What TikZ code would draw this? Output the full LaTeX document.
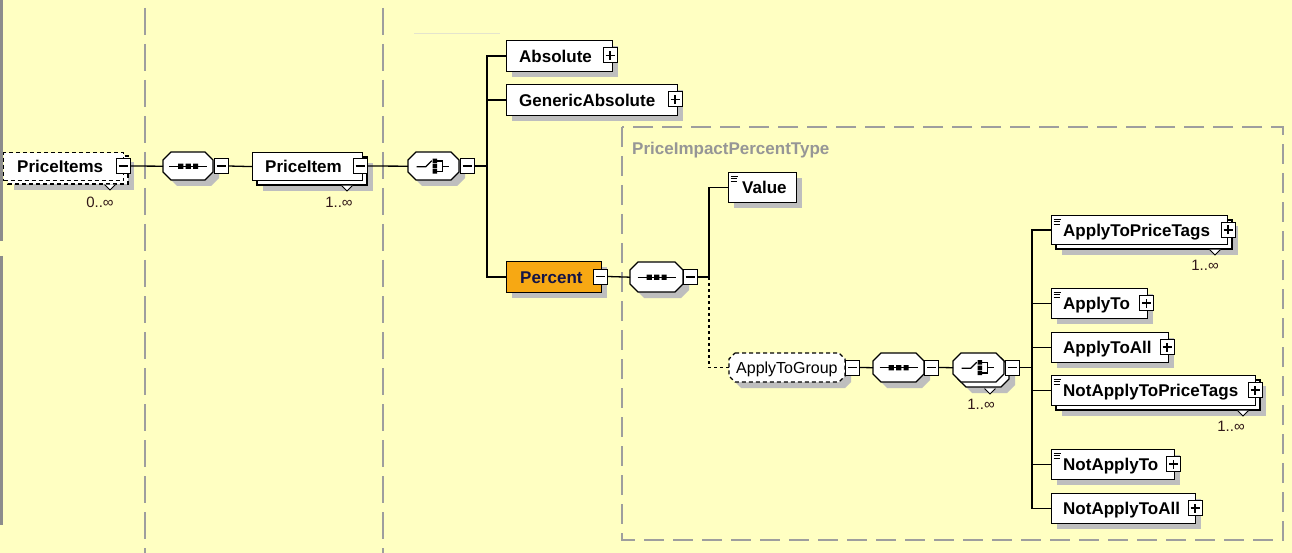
\documentclass[tikz,border=0pt]{standalone}
\usepackage{fontspec}
\setmainfont{Liberation Sans}
\usetikzlibrary{calc}
\definecolor{bgc}{RGB}{255,255,194}
\definecolor{shd}{RGB}{190,190,190}
\definecolor{grl}{RGB}{158,158,158}
\definecolor{orng}{RGB}{247,168,19}
\definecolor{multc}{RGB}{50,25,25}
\definecolor{navy}{RGB}{20,20,70}
\definecolor{ctitle}{RGB}{150,150,150}
\definecolor{leftbar}{RGB}{140,140,140}
\definecolor{faint}{RGB}{228,228,205}
\newcommand\octo[6]{\path[#1] (#2+#6,#3) -- (#4-#6,#3) -- (#4,#3+#6) -- (#4,#5-#6) -- (#4-#6,#5) -- (#2+#6,#5) -- (#2,#5-#6) -- (#2,#3+#6) -- cycle;}
\newcommand\elem[6][]{%
  \path[fill=shd] (#3+6,#4+6) rectangle (#5+6,#6+6);
  \node[elembox,#1,minimum width={#5-#3},minimum height={#6-#4},anchor=north west] (#2) at (#3,#4) {};}
\newcommand\stel[6][]{%
  \path[fill=shd] (#3+11,#4+11) rectangle (#5+11,#6+11);
  \draw[elembox,#1] (#3+5,#4+5) rectangle (#5+5,#6+5);
  \node[elembox,#1,minimum width={#5-#3},minimum height={#6-#4},anchor=north west] (#2) at (#3,#4) {};}
\newcommand\comp[5]{%
  \octo{fill=shd}{#2+6}{#3+6}{#4+6}{#5+6}{8}
  \octo{draw=black,fill=white,line width=1.2pt}{#2}{#3}{#4}{#5}{8}
  \node[inner sep=0,minimum width={#4-#2},minimum height={#5-#3},anchor=north west] (#1) at (#2,#3) {};}
\newcommand\stcomp[5]{%
  \octo{fill=shd}{#2+11}{#3+11}{#4+11}{#5+11}{8}
  \octo{draw=black,fill=white,line width=1.2pt}{#2+5}{#3+5}{#4+5}{#5+5}{8}
  \octo{draw=black,fill=white,line width=1.2pt}{#2}{#3}{#4}{#5}{8}
  \node[inner sep=0,minimum width={#4-#2},minimum height={#5-#3},anchor=north west] (#1) at (#2,#3) {};}
\newcommand\mtri[2]{\draw[fill=white,line width=0.9pt] (#1-5.5,#2+0.6) -- (#1,#2+6) -- (#1+5.5,#2+0.6);}
\newcommand\seqsym[1]{\begin{scope}[shift={(#1.center)}]
 \draw[line width=1.2pt] (-19,0) -- (19,0);
 \fill (-10,-2.6) rectangle (-4.8,2.6) (-2.6,-2.6) rectangle (2.6,2.6) (4.8,-2.6) rectangle (10,2.6);
\end{scope}}
\newcommand\chsym[1]{\begin{scope}[shift={(#1.center)}]
 \draw[line width=1.2pt] (-17,0.5) -- (-8,0.5) -- (-2,-5.5);
 \fill (-1,-7.5) rectangle (3.5,-3) (-1,-2.2) rectangle (3.5,2.2) (-1,3) rectangle (3.5,7.5);
 \draw[line width=1.2pt] (3.5,-5.2) -- (8.5,-5.2) -- (8.5,5.2) -- (3.5,5.2) (8.5,0) -- (15,0);
\end{scope}}
\newcommand\elicon[1]{\begin{scope}[shift={(#1.north west)}]
 \draw[line width=0.9pt] (2.5,4.3) -- (10,4.3) (2.5,6.7) -- (9,6.7) (2.5,9.1) -- (9,9.1);
\end{scope}}
\begin{document}
\begin{tikzpicture}[x=1pt,y=-1pt,
  elembox/.style={draw=black,fill=white,line width=1.2pt,inner sep=0,rectangle},
  dbox/.style={draw=black,fill=white,line width=1.1pt,dash pattern=on 4pt off 3pt,inner sep=0},
  pmbox/.style={draw=black,fill=white,line width=1pt,inner sep=0,minimum width=14pt,minimum height=15pt},
  minus/.style={pmbox,path picture={\draw[line width=1.1pt] ([xshift=-4.5pt]path picture bounding box.center) -- ([xshift=4.5pt]path picture bounding box.center);}},
  plus/.style={pmbox,path picture={\draw[line width=1.1pt] ([xshift=-4.5pt]path picture bounding box.center) -- ([xshift=4.5pt]path picture bounding box.center) ([yshift=-4.5pt]path picture bounding box.center) -- ([yshift=4.5pt]path picture bounding box.center);}},
  lbl/.style={font=\fontsize{17}{20}\selectfont\bfseries,inner sep=0,text height=12.2pt,text depth=0pt,anchor=west,text=black},
  lblr/.style={font=\fontsize{16}{19}\selectfont,inner sep=0,text height=11.5pt,text depth=0pt,anchor=west,text=black},
  mult/.style={font=\fontsize{15}{18}\selectfont,inner sep=0,text=multc},
  ctit/.style={font=\fontsize{17}{20}\selectfont\bfseries,inner sep=0,text height=12.2pt,text depth=0pt,text=ctitle},
  conn/.style={draw=black,line width=1.3pt},
  dotc/.style={draw=black,line width=1.2pt,dash pattern=on 3pt off 3pt},
  vdash/.style={draw=grl,line width=1.6pt,dash pattern=on 27pt off 9pt},
  cont/.style={draw=grl,line width=1.4pt,dash pattern=on 20pt off 9pt}]
\useasboundingbox (0,0) rectangle (1292,553);
\fill[bgc] (0,0) rectangle (1292,553);
\draw[leftbar,line width=2.5pt] (1.25,0) -- (1.25,241) (1.25,256) -- (1.25,525);
\draw[faint,line width=1pt] (414,34) -- (500,34);
\draw[vdash] (145,8) -- (145,553);
\draw[vdash] (383,8) -- (383,553);
\draw[cont] (622,127) rectangle (1283,540);
\node[ctit,anchor=west] (ptype) at (632,148) {PriceImpactPercentType};
% PriceItems
\path[fill=shd] (14,162) rectangle (134,190);
\draw[dbox] (8,156) rectangle (128,184);
\node[dbox,minimum width=120,minimum height=28,anchor=north west] (pis) at (3,152) {};
\mtri{110}{184}
\node[minus] (pism) at (123,166) {};
\node[lbl] (tpis) at ([xshift=14pt]pis.west) {PriceItems};
\node[mult] (m0) at (100,202) {0..∞};
% sequence 1
\comp{seq1}{163}{152}{213}{180}
\seqsym{seq1}
\node[minus] (seq1m) at (221,166) {};
% PriceItem
\stel{pi}{252}{152}{362}{180}
\mtri{347}{185}
\node[minus] (pim) at (360,166) {};
\node[lbl] (tpi) at ([xshift=13pt]pi.west) {PriceItem};
\node[mult] (m1) at (339,202) {1..∞};
% choice 1
\comp{ch1}{408}{152}{459}{180}
\chsym{ch1}
\node[minus] (ch1m) at (467,166) {};
% children of choice 1
\elem{abs}{506}{40}{612}{71}
\node[lbl] (tabs) at ([xshift=13pt]abs.west) {Absolute};
\node[plus] (absp) at (610,55.5) {};
\elem{gen}{506}{84}{677}{115}
\node[lbl] (tgen) at ([xshift=13pt]gen.west) {GenericAbsolute};
\node[plus] (genp) at (675,99.5) {};
\elem[fill=orng]{perc}{506}{261}{601}{292}
\node[lbl,text=navy] (tperc) at ([xshift=14pt]perc.west) {Percent};
\node[minus] (percm) at (600.5,276.5) {};
% sequence 2
\comp{seq2}{630}{262}{683}{292}
\seqsym{seq2}
\node[minus] (seq2m) at (690,277) {};
% Value
\elem{val}{728}{172}{796}{202}
\elicon{val}
\node[lbl] (tval) at ([xshift=14pt]val.west) {Value};
% ApplyToGroup
\octo{fill=shd}{735}{359}{851}{388}{6}
\octo{dbox}{729}{353}{845}{382}{6}
\node[inner sep=0,minimum width=116,minimum height=29,anchor=north west] (atg) at (729,353) {};
\node[lblr] (tatg) at ([xshift=7pt]atg.west) {ApplyToGroup};
\node[minus] (atgm) at (852.5,367.5) {};
% sequence 3
\comp{seq3}{873}{353}{924}{382}
\seqsym{seq3}
\node[minus] (seq3m) at (931.5,367.5) {};
% choice 2
\stcomp{ch2}{953}{353}{1004}{382}
\mtri{990}{388}
\chsym{ch2}
\node[minus] (ch2m) at (1012,367.5) {};
\node[mult] (m2) at (981,404) {1..∞};
% right column
\stel{apt}{1051}{215}{1227}{244}
\mtri{1215}{249}
\elicon{apt}
\node[lbl] (tapt) at ([xshift=12pt]apt.west) {ApplyToPriceTags};
\node[plus] (aptp) at (1228,230) {};
\node[mult] (m3) at (1205,265) {1..∞};
\elem{apto}{1051}{288}{1147}{318}
\elicon{apto}
\node[lbl] (tapto) at ([xshift=12pt]apto.west) {ApplyTo};
\node[plus] (aptop) at (1146.5,303) {};
\elem{apa}{1051}{332}{1168}{362}
\node[lbl] (tapa) at ([xshift=12pt]apa.west) {ApplyToAll};
\node[plus] (apap) at (1167,347) {};
\stel{napt}{1051}{375}{1255}{405}
\mtri{1243}{410}
\elicon{napt}
\node[lbl] (tnapt) at ([xshift=12pt]napt.west) {NotApplyToPriceTags};
\node[plus] (naptp) at (1255,390) {};
\node[mult] (m4) at (1231,426) {1..∞};
\elem{napto}{1051}{449}{1174}{479}
\elicon{napto}
\node[lbl] (tnapto) at ([xshift=12pt]napto.west) {NotApplyTo};
\node[plus] (naptop) at (1173.5,464) {};
\elem{napa}{1051}{493}{1195}{523}
\node[lbl] (tnapa) at ([xshift=12pt]napa.west) {NotApplyToAll};
\node[plus] (napap) at (1195,508) {};
% connectors
\coordinate (t1) at (487,166);
\coordinate (t2) at (709,277);
\coordinate (t3) at (1032,367.5);
\draw[conn] (pism.east) -- (seq1.west);
\draw[conn] (seq1m.east) -- (pi.west);
\draw[conn] (pim.east) -- (ch1.west);
\draw[conn] (ch1m.east) -- (t1);
\draw[conn] (abs.west) -| (t1) |- (perc.west);
\draw[conn] (gen.west) -- (gen.west -| t1);
\draw[conn] (percm.east) -- (seq2.west);
\draw[conn] (seq2m.east) -- (t2);
\draw[conn] (val.west) -| (t2);
\draw[dotc] (t2) |- (atg.west);
\draw[conn] (atgm.east) -- (seq3.west);
\draw[conn] (seq3m.east) -- (ch2.west);
\draw[conn] (ch2m.east) -- (t3);
\draw[conn] (apt.west) -| (t3) |- (napa.west);
\draw[conn] (apto.west) -- (apto.west -| t3);
\draw[conn] (apa.west) -- (apa.west -| t3);
\draw[conn] (napt.west) -- (napt.west -| t3);
\draw[conn] (napto.west) -- (napto.west -| t3);
\end{tikzpicture}
\end{document}
